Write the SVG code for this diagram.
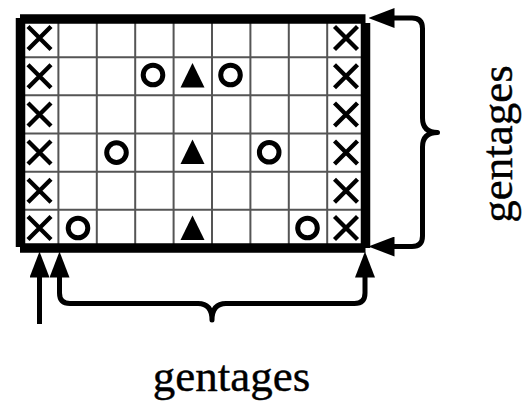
<svg xmlns="http://www.w3.org/2000/svg" xmlns:xlink="http://www.w3.org/1999/xlink" width="522" height="402" viewBox="0 0 522 402">
<style>
.grid{stroke:#555;stroke-width:2;fill:none}
.border{stroke:#000;stroke-width:9.5;fill:none}
.conn{stroke:#000;stroke-width:5;fill:none;stroke-linejoin:round}
.mark{stroke:#000;stroke-width:4.3;fill:none}
.ring{stroke:#000;stroke-width:5;fill:none}
.tri{fill:#000}
.lbl{font-family:"Liberation Serif","Times New Roman",serif;font-size:45px;fill:#000;stroke:#000;stroke-width:0.4}
</style>
<defs>
<marker id="ah" markerUnits="userSpaceOnUse" markerWidth="26" markerHeight="20" refX="0.5" refY="10" orient="auto-start-reverse" viewBox="0 0 26 20">
<path d="M0,0 L26,10 L0,20 z" fill="#000"/>
</marker>
<path id="x" class="mark" d="M-11.5,-11.5 L11.5,11.5 M11.5,-11.5 L-11.5,11.5"/>
<circle id="o" class="ring" r="9.8"/>
<path id="t" class="tri" d="M0,-12.5 L12,12 L-12,12 z"/>
</defs>
<rect width="522" height="402" fill="#fff"/>
<g id="board">
<rect x="20" y="19" width="345.5" height="229" fill="#fff"/>
<path class="grid" d="M58.4,19V248 M96.8,19V248 M135.2,19V248 M173.6,19V248 M212,19V248 M250.4,19V248 M288.8,19V248 M327.2,19V248 M20,57.2H365.5 M20,95.3H365.5 M20,133.5H365.5 M20,171.7H365.5 M20,209.8H365.5"/>
<path class="border" d="M20,19H365.5 M365.5,23V248 M20,248H365.5 M20.5,18V247"/>
</g>
<g id="crosses">
<use xlink:href="#x" x="39.5" y="38"/>
<use xlink:href="#x" x="39.5" y="76.3"/>
<use xlink:href="#x" x="39.5" y="114.4"/>
<use xlink:href="#x" x="39.5" y="152.6"/>
<use xlink:href="#x" x="39.5" y="190.7"/>
<use xlink:href="#x" x="39.5" y="228"/>
<use xlink:href="#x" x="346" y="38"/>
<use xlink:href="#x" x="346" y="76.3"/>
<use xlink:href="#x" x="346" y="114.4"/>
<use xlink:href="#x" x="346" y="152.6"/>
<use xlink:href="#x" x="346" y="190.7"/>
<use xlink:href="#x" x="346" y="228"/>
</g>
<g id="circles">
<use xlink:href="#o" x="153" y="75"/>
<use xlink:href="#o" x="230.5" y="75"/>
<use xlink:href="#o" x="116.5" y="152.6"/>
<use xlink:href="#o" x="269.2" y="152.3"/>
<use xlink:href="#o" x="78" y="228"/>
<use xlink:href="#o" x="307.5" y="228"/>
</g>
<g id="triangles">
<use xlink:href="#t" x="192.5" y="75.5"/>
<use xlink:href="#t" x="192.5" y="152"/>
<use xlink:href="#t" x="192.5" y="228"/>
</g>
<g id="connectors">
<path class="conn" d="M39.5,324V277" marker-end="url(#ah)"/>
<path class="conn" d="M59.5,277V293 Q59.5,303.5 70,303.5 H198 Q212,303.5 212,320 Q212,303.5 226,303.5 H354.5 Q365,303.5 365,293 V277" marker-start="url(#ah)" marker-end="url(#ah)"/>
<path class="conn" d="M394,18H412 Q422.5,18 422.5,28.5 V118 Q422.5,132.5 437.5,132.5 Q422.5,132.5 422.5,147 V236 Q422.5,246.5 412,246.5 H394" marker-start="url(#ah)" marker-end="url(#ah)"/>
</g>
<g id="labels">
<text class="lbl" x="231.5" y="391" text-anchor="middle">gentages</text>
<text class="lbl" transform="translate(512,144) rotate(-90)" text-anchor="middle">gentages</text>
</g>
</svg>
